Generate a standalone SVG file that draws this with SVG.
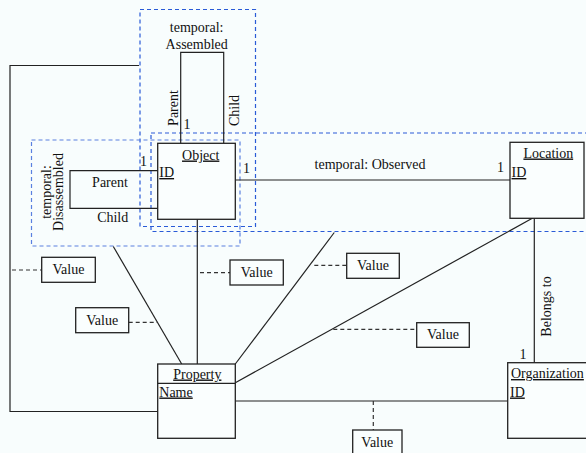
<svg xmlns="http://www.w3.org/2000/svg" width="586" height="453" viewBox="0 0 586 453">
<style>
text{font-family:"Liberation Serif","Times New Roman",serif;font-size:14px;fill:#111}
.u{text-decoration:underline}
.box{fill:#fafefe;stroke:#222;stroke-width:1.3}
.ln{fill:none;stroke:#222;stroke-width:1.2}
.dl{fill:none;stroke:#333;stroke-width:1.2;stroke-dasharray:4,3}
.grp{fill:none;stroke:#2a5bd7;stroke-width:1.2;stroke-dasharray:4,3}
.grp2{fill:none;stroke:#5a80e0;stroke-width:1.2;stroke-dasharray:4,3}
.m{text-anchor:middle}
</style>
<rect x="0" y="0" width="586" height="453" fill="#f8fdfd"/>
<g id="groups">
<rect class="grp" x="140" y="9.5" width="115.5" height="217"/>
<rect class="grp2" x="31.5" y="140" width="208.5" height="106"/>
<rect class="grp" x="151" y="133" width="440" height="98.5"/>
</g>
<g id="connectors">
<polyline class="ln" points="139,65.5 10,65.5 10,411.5 158,411.5"/>
<polyline class="ln" points="180.7,143.3 180.7,52.3 223.7,52.3 223.7,143.3"/>
<polyline class="ln" points="157.7,170.7 70,170.7 70,208.3 157.7,208.3"/>
<line class="ln" x1="235.3" y1="180" x2="510" y2="180"/>
<line class="ln" x1="197.3" y1="219.3" x2="197.3" y2="364"/>
<line class="ln" x1="113.3" y1="246.5" x2="181.7" y2="364"/>
<line class="ln" x1="334.3" y1="232.5" x2="235.3" y2="364"/>
<line class="ln" x1="532.3" y1="218.3" x2="235.3" y2="382.7"/>
<line class="ln" x1="534.3" y1="218.3" x2="534.3" y2="362.7"/>
<line class="ln" x1="235.3" y1="401" x2="507.7" y2="401"/>
<line class="dl" x1="12" y1="270" x2="41.7" y2="270"/>
<line class="dl" x1="128.7" y1="322.3" x2="157.3" y2="322.3"/>
<line class="dl" x1="200" y1="272.7" x2="230" y2="272.7"/>
<line class="dl" x1="314.3" y1="265.3" x2="346.7" y2="265.3"/>
<line class="dl" x1="333.3" y1="329.3" x2="416.7" y2="329.3"/>
<line class="dl" x1="373.3" y1="401" x2="373.3" y2="430"/>
<text class="m" x="196.7" y="31.5">temporal:</text>
<text class="m" x="196.7" y="48.5">Assembled</text>
<text class="m" transform="translate(177.5,108) rotate(-90)">Parent</text>
<text class="m" transform="translate(239,110.5) rotate(-90)">Child</text>
<text x="183.5" y="129">1</text>
<text class="m" x="110" y="187">Parent</text>
<text class="m" x="112.7" y="222">Child</text>
<text x="140" y="165.5">1</text>
<text class="m" transform="translate(51,192) rotate(-90)">temporal:</text>
<text class="m" transform="translate(63,192) rotate(-90)">Disassembled</text>
<text x="243" y="173">1</text>
<text class="m" x="370" y="168.5">temporal: Observed</text>
<text x="497" y="172">1</text>
<text class="m" transform="translate(550.5,306.5) rotate(-90)">Belongs to</text>
<text x="519.5" y="358.5">1</text>
</g>
<g id="object">
<rect class="box" x="157.7" y="143.3" width="77.6" height="76"/>
<text class="m u" x="200.7" y="159.5">Object</text>
<text class="u" x="159.3" y="177">ID</text>
</g>
<g id="location">
<rect class="box" x="510" y="142.3" width="74" height="76"/>
<text class="m u" x="548.3" y="157.5">Location</text>
<text class="u" x="511.5" y="177">ID</text>
</g>
<g id="property">
<rect class="box" x="157.7" y="364" width="77.6" height="74.3"/>
<line class="ln" x1="157.7" y1="383.3" x2="235.3" y2="383.3"/>
<text class="m u" x="197.3" y="378.5">Property</text>
<text class="u" x="159.3" y="396.5">Name</text>
</g>
<g id="organization">
<rect class="box" x="507.7" y="362.7" width="85" height="75.6"/>
<text class="u" x="511" y="378">Organization</text>
<text class="u" x="510" y="396.5">ID</text>
</g>
<g id="value1"><rect class="box" x="41.7" y="257.3" width="53.6" height="25"/><text class="m" x="68.5" y="274">Value</text></g>
<g id="value2"><rect class="box" x="75.7" y="307.7" width="53" height="25"/><text class="m" x="102.2" y="324.5">Value</text></g>
<g id="value3"><rect class="box" x="230" y="260" width="53.3" height="25"/><text class="m" x="256.7" y="276.5">Value</text></g>
<g id="value4"><rect class="box" x="346.7" y="253.3" width="52.6" height="25"/><text class="m" x="373" y="270">Value</text></g>
<g id="value5"><rect class="box" x="416.7" y="322.7" width="52.6" height="24.6"/><text class="m" x="443" y="339">Value</text></g>
<g id="value6"><rect class="box" x="352.7" y="430" width="49.3" height="25"/><text class="m" x="377.3" y="446.5">Value</text></g>
</svg>
